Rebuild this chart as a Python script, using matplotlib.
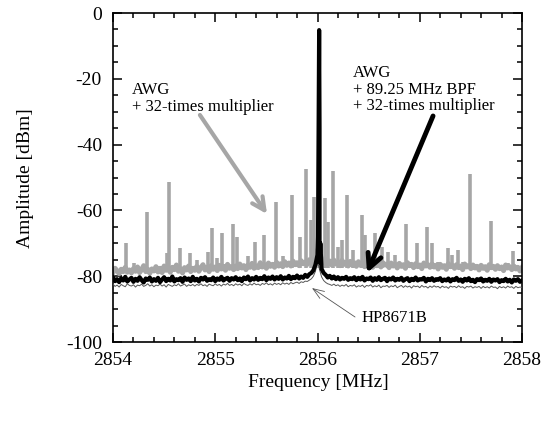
import numpy as np
import matplotlib
matplotlib.use('Agg')
import matplotlib.pyplot as plt
from matplotlib.ticker import MultipleLocator

plt.rcParams['font.family'] = 'Liberation Serif'
plt.rcParams['axes.unicode_minus'] = False

# frequency grid for the noise floors, MHz (0.02 MHz steps)
freq = np.linspace(2854, 2858, 201)

# AWG + 32-times multiplier: floor and spurs
grey_floor = [
    -78.9, -77.6, -78.4, -79.2, -77.9, -78.6, -77.3, -78.8, -78.1, -79.0, -77.7, -78.5, -77.2, -78.9, -78.0, -76.8, -78.6, -77.9, -79.1, -77.8,
    -78.4, -77.1, -78.7, -77.6, -78.9, -76.9, -78.2, -77.5, -78.8, -77.3, -78.0, -76.6, -78.5, -77.7, -79.0, -77.4, -78.1, -76.9, -78.6, -77.6,
    -78.2, -77.0, -78.5, -77.4, -76.5, -78.1, -77.3, -78.6, -76.8, -77.9, -77.2, -78.3, -76.7, -77.8, -77.0, -78.2, -76.4, -77.6, -77.1, -78.0,
    -76.9, -77.7, -76.3, -77.5, -76.8, -78.0, -76.6, -77.3, -76.1, -77.6, -76.9, -77.4, -75.9, -77.2, -76.5, -77.6, -76.0, -77.0, -76.4, -77.3,
    -75.8, -76.9, -76.2, -77.1, -75.6, -76.7, -76.0, -76.9, -75.4, -76.5, -75.9, -76.8, -75.3, -76.2, -75.7, -76.4, -75.0, -75.8, -74.9, -74.0,
    -72.0, -73.5, -74.6, -75.8, -75.0, -76.2, -75.4, -76.6, -75.1, -76.3, -75.7, -76.8, -75.2, -76.4, -75.8, -76.9, -75.5, -76.6, -75.9, -77.0,
    -75.6, -76.7, -76.0, -77.1, -75.8, -76.5, -76.2, -77.3, -75.7, -76.8, -76.1, -77.2, -75.9, -76.6, -76.3, -77.4, -76.0, -76.9, -76.4, -77.5,
    -76.1, -77.0, -76.5, -77.6, -75.9, -76.8, -76.4, -77.4, -76.2, -77.1, -76.6, -77.7, -76.0, -76.9, -76.5, -77.3, -76.3, -77.2, -76.7, -77.8,
    -76.4, -77.3, -76.8, -77.9, -76.2, -77.1, -76.7, -77.6, -76.5, -77.4, -76.9, -78.0, -76.3, -77.2, -76.8, -77.7, -76.6, -77.5, -77.0, -78.1,
    -76.7, -77.6, -77.1, -78.2, -76.5, -77.4, -77.0, -77.9, -76.8, -77.7, -77.2, -78.3, -76.6, -77.5, -77.1, -78.0, -76.9, -77.8, -77.3, -78.4,
    -77.4]
spur_f = [2854.13, 2854.21, 2854.33, 2854.53, 2854.55, 2854.66, 2854.75, 2854.82, 2854.93, 2854.97, 2855.02,
          2855.07, 2855.17, 2855.21, 2855.32, 2855.39, 2855.48, 2855.59, 2855.66, 2855.75, 2855.83, 2855.89,
          2855.94, 2855.97, 2856.015, 2856.07, 2856.10, 2856.15, 2856.20, 2856.24, 2856.29, 2856.35, 2856.44,
          2856.46, 2856.56, 2856.63, 2856.69, 2856.76, 2856.87, 2856.97, 2857.07, 2857.12, 2857.18, 2857.28,
          2857.32, 2857.37, 2857.42, 2857.49, 2857.70, 2857.86, 2857.91]
spur_db = [-69.9, -76.0, -60.5, -73.0, -51.4, -71.4, -73.0, -75.0, -72.6, -65.4, -74.5,
           -66.9, -64.2, -68.0, -74.0, -69.6, -67.5, -57.5, -74.0, -55.3, -68.0, -47.4,
           -63.0, -56.0, -5.5, -56.3, -63.5, -48.0, -71.0, -69.0, -55.3, -72.0, -61.4,
           -67.5, -67.0, -71.0, -72.6, -73.5, -64.0, -70.0, -65.0, -70.0, -75.7, -71.4,
           -73.6, -72.0, -75.7, -48.9, -63.2, -76.0, -72.3]

# AWG + 89.25 MHz BPF + 32-times multiplier
black_floor = [
    -80.4, -81.5, -80.9, -81.8, -80.6, -81.3, -80.2, -81.6, -81.0, -80.5, -81.7, -80.8, -81.4, -80.3, -81.2, -81.9, -80.7, -81.1, -80.4, -81.6,
    -80.9, -81.4, -80.5, -81.8, -81.0, -80.3, -81.5, -80.8, -81.3, -80.1, -81.6, -80.9, -81.2, -80.6, -81.7, -80.4, -81.1, -80.7, -81.5, -80.2,
    -81.3, -80.8, -81.6, -80.5, -81.0, -80.3, -81.4, -80.9, -81.2, -80.4, -81.5, -80.7, -81.1, -80.2, -81.3, -80.8, -80.5, -81.4, -80.6, -81.0,
    -80.3, -81.2, -80.7, -81.5, -80.4, -80.9, -80.1, -81.3, -80.6, -81.0, -80.2, -81.1, -80.5, -80.9, -80.0, -81.2, -80.4, -80.8, -80.1, -81.0,
    -80.3, -80.8, -80.0, -81.0, -80.4, -80.7, -79.9, -80.9, -80.2, -80.6, -79.8, -80.7, -80.1, -80.5, -79.6, -80.2, -79.4, -79.0, -78.2, -76.5,
    -73.5, -75.8, -77.8, -79.0, -79.6, -80.4, -79.9, -80.7, -80.1, -80.9, -80.3, -81.0, -80.5, -80.8, -80.2, -81.1, -80.6, -80.9, -80.3, -81.2,
    -80.5, -81.0, -80.2, -81.3, -80.7, -80.9, -80.4, -81.4, -80.6, -81.1, -80.3, -81.2, -80.8, -80.5, -81.5, -80.7, -81.0, -80.4, -81.3, -80.8,
    -81.1, -80.5, -81.4, -80.9, -80.6, -81.5, -80.8, -81.2, -80.4, -81.3, -80.9, -81.0, -80.5, -81.6, -80.8, -81.2, -80.6, -81.4, -80.9, -81.1,
    -80.6, -81.5, -81.0, -81.3, -80.7, -81.6, -80.9, -81.2, -80.5, -81.4, -81.0, -81.7, -80.8, -81.3, -80.6, -81.5, -81.1, -81.8, -80.9, -81.2,
    -80.7, -81.6, -81.1, -81.4, -80.8, -81.7, -81.0, -81.3, -80.9, -81.8, -81.2, -81.5, -80.8, -81.6, -81.1, -81.9, -81.0, -81.4, -80.9, -81.7,
    -81.3]
peak_f = [2856.005, 2856.012, 2856.016, 2856.020, 2856.028]
peak_db = [-68.0, -30.0, -5.2, -35.0, -70.0]

# HP8671B
hp_floor = [
    -82.4, -83.1, -82.7, -83.3, -82.5, -82.9, -83.2, -82.3, -82.8, -83.0, -82.6, -83.3, -82.7, -82.9, -82.4, -83.1, -82.8, -82.3, -83.0, -82.6,
    -83.2, -82.7, -82.9, -82.4, -83.0, -82.6, -83.3, -82.5, -82.8, -83.1, -82.6, -82.9, -82.3, -83.0, -82.7, -82.4, -83.1, -82.6, -82.9, -82.5,
    -83.0, -82.5, -82.8, -82.3, -82.9, -82.6, -83.1, -82.4, -82.7, -82.9, -82.3, -82.8, -82.5, -83.0, -82.4, -82.7, -82.2, -82.8, -82.5, -82.9,
    -82.3, -82.7, -82.4, -82.9, -82.2, -82.6, -82.8, -82.3, -82.7, -82.1, -82.6, -82.4, -82.8, -82.2, -82.5, -82.0, -82.6, -82.3, -82.7, -82.1,
    -82.5, -82.2, -82.6, -82.0, -82.4, -82.1, -82.5, -81.9, -82.3, -82.0, -81.8, -82.2, -81.7, -81.9, -81.5, -81.6, -81.2, -80.8, -80.0, -78.5,
    -75.5, -78.0, -80.2, -81.3, -81.9, -82.3, -82.5, -82.8, -82.4, -82.9, -82.6, -83.1, -82.7, -83.0, -82.5, -83.2, -82.8, -83.0, -82.6, -83.3,
    -82.9, -83.1, -82.7, -83.4, -82.8, -83.0, -82.6, -83.3, -82.9, -83.2, -82.7, -83.5, -83.0, -83.1, -82.8, -83.4, -82.9, -83.2, -82.7, -83.5,
    -83.1, -82.8, -83.4, -82.9, -83.3, -83.0, -83.6, -82.9, -83.2, -83.0, -83.5, -82.8, -83.3, -83.1, -83.6, -83.0, -83.4, -82.9, -83.3, -83.1,
    -83.6, -83.0, -83.4, -83.2, -83.7, -83.0, -83.3, -83.1, -83.5, -82.9, -83.4, -83.2, -83.7, -83.1, -83.3, -83.0, -83.6, -83.2, -83.4, -83.1,
    -83.7, -83.1, -83.5, -83.2, -83.6, -83.0, -83.4, -83.3, -83.8, -83.1, -83.5, -83.2, -83.6, -83.0, -83.4, -83.2, -83.7, -83.1, -83.5, -83.3,
    -83.4]

grey = '#a6a6a6'

fig = plt.figure(figsize=(5.47, 4.23), dpi=100)
ax = fig.add_axes([113/547, 1-342/423, 409/547, 329/423])

# grey trace
ax.vlines(spur_f, -77.5, spur_db, color=grey, lw=2.6, zorder=1)
ax.plot(freq, grey_floor, color=grey, lw=3.6, zorder=2)

# HP8671B thin trace
ax.plot(freq, hp_floor, color='#555555', lw=0.7, zorder=3)

# black trace with carrier
bf = np.concatenate([freq, peak_f])
bd = np.concatenate([black_floor, peak_db])
order = np.argsort(bf)
ax.plot(bf[order], bd[order], color='black', lw=3.0, zorder=4)

ax.set_xlim(2854, 2858)
ax.set_ylim(-100, 0)
ax.xaxis.set_major_locator(MultipleLocator(1))
ax.xaxis.set_minor_locator(MultipleLocator(0.2))
ax.yaxis.set_major_locator(MultipleLocator(20))
ax.yaxis.set_minor_locator(MultipleLocator(5))
ax.tick_params(which='both', direction='in', top=True, right=True, width=1.1, labelsize=14)
ax.tick_params(which='major', length=6.5)
ax.tick_params(which='minor', length=3.6)
ax.tick_params(axis='x', pad=7)
ax.tick_params(axis='y', pad=8)
for s in ax.spines.values():
    s.set_linewidth(1.2)

fig.text(318/547, 1-382/423, 'Frequency [MHz]', ha='center', va='center', fontsize=14)
fig.text(25/547, 1-178/423, 'Amplitude [dBm]', ha='center', va='center', rotation=90, fontsize=14)

# annotations
ax.text(2854.186, -21.0, 'AWG\n+ 32-times multiplier', ha='left', va='top', fontsize=12, linespacing=1.05)
ax.annotate('', xy=(2855.506, -61.1), xytext=(2854.85, -31.0),
            arrowprops=dict(arrowstyle='->,head_length=0.9,head_width=0.45', lw=3, color=grey,
                            shrinkA=0, shrinkB=0), zorder=5)

ax.text(2856.347, -15.8, 'AWG\n+ 89.25 MHz BPF\n+ 32-times multiplier', ha='left', va='top',
        fontsize=12, linespacing=1.05)
ax.annotate('', xy=(2856.484, -79.0), xytext=(2857.13, -31.3),
            arrowprops=dict(arrowstyle='->,head_length=1.0,head_width=0.5', lw=3.5, color='black',
                            shrinkA=0, shrinkB=0), zorder=6)

ax.text(2856.435, -92.7, 'HP8671B', ha='left', va='center', fontsize=12)
ax.annotate('', xy=(2855.946, -83.6), xytext=(2856.367, -92.4),
            arrowprops=dict(arrowstyle='->,head_length=0.8,head_width=0.3', lw=0.6, color='#555555',
                            shrinkA=0, shrinkB=0), zorder=6)

fig.savefig('out.png', dpi=100)
